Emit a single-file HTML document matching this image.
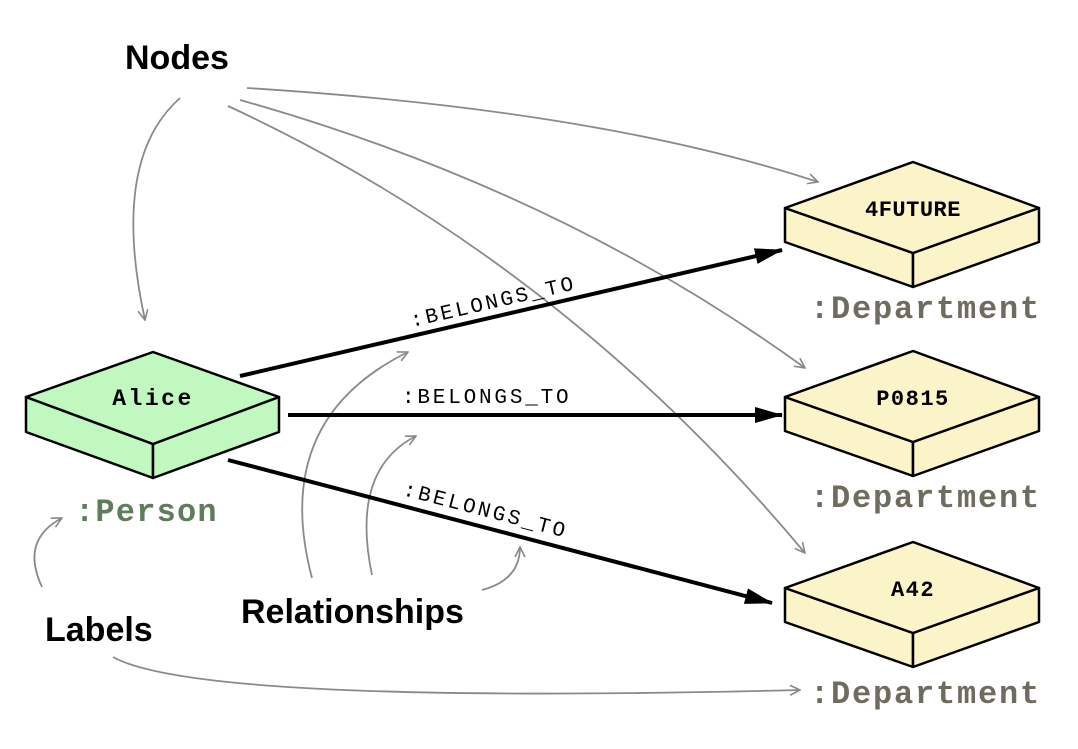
<!DOCTYPE html>
<html><head><style>
html,body{margin:0;padding:0;background:#fff;}
svg{display:block;}
.mono{font-family:"Liberation Mono",monospace;font-weight:bold;}
.rel{font-family:"Liberation Mono",monospace;}
.sans{font-family:"Liberation Sans",sans-serif;font-weight:bold;}
</style></head><body>
<svg width="1078" height="749" viewBox="0 0 1078 749" xmlns="http://www.w3.org/2000/svg">
<defs>
<marker id="g" viewBox="0 0 12 12" refX="11" refY="6" markerWidth="12" markerHeight="12" markerUnits="userSpaceOnUse" orient="auto">
<path d="M1,1 L11,6 L1,11" fill="none" stroke="#888" stroke-width="1.6"/>
</marker>
<marker id="b" viewBox="0 0 28 20" refX="27" refY="10" markerWidth="28" markerHeight="20" markerUnits="userSpaceOnUse" orient="auto">
<path d="M0,2 L28,10 L0,18 Z" fill="#000"/>
</marker>
</defs>

<g fill="none" stroke="#8a8a8a" stroke-width="1.8" marker-end="url(#g)">
<path d="M180,98 Q110,160 145,320"/>
<path d="M247,88 Q600,110 818,182"/>
<path d="M240,100 Q560,190 805,368"/>
<path d="M228,106 Q560,260 805,553"/>
<path d="M312,578 Q270,420 408,352"/>
<path d="M372,575 Q350,470 416,436"/>
<path d="M482,590 Q520,580 520,547"/>
<path d="M42,587 Q20,540 62,518"/>
<path d="M113,657 Q200,705 800,690"/>
</g>

<g stroke="#000" stroke-width="4" fill="none" marker-end="url(#b)">
<path d="M240,376 L782,250"/>
<path d="M288,415 L782,415"/>
<path d="M228,460 L772,603"/>
</g>
<text class="rel" font-size="21" letter-spacing="2.8" transform="translate(412,327) rotate(-13)">:BELONGS_TO</text>
<text class="rel" font-size="21" letter-spacing="2.8" x="402" y="403">:BELONGS_TO</text>
<text class="rel" font-size="21" letter-spacing="2.8" transform="translate(402,495) rotate(14.6)">:BELONGS_TO</text>

<g stroke="#000" stroke-width="2.5" stroke-linejoin="round" fill="#c0f8c0">
<path d="M26,397 L153,444 L153,478 L26,432 Z"/>
<path d="M153,444 L279,397 L279,432 L153,478 Z"/>
<path d="M153,352 L279,397 L153,444 L26,397 Z"/>
</g>
<text class="mono" font-size="23" letter-spacing="2.5" x="153" y="405" text-anchor="middle">Alice</text>
<text class="mono" font-size="32" letter-spacing="1.2" x="75" y="521" fill="#5d7d5d">:Person</text>

<g stroke="#000" stroke-width="2.5" stroke-linejoin="round" fill="#fbf4c8">
<g>
<path d="M785,208 L913,253 L913,287 L785,242 Z"/>
<path d="M913,253 L1039,208 L1039,242 L913,287 Z"/>
<path d="M913,162 L1039,208 L913,253 L785,208 Z"/>
</g>
<g transform="translate(0,189)">
<path d="M785,208 L913,253 L913,287 L785,242 Z"/>
<path d="M913,253 L1039,208 L1039,242 L913,287 Z"/>
<path d="M913,162 L1039,208 L913,253 L785,208 Z"/>
</g>
<g transform="translate(0,380)">
<path d="M785,208 L913,253 L913,287 L785,242 Z"/>
<path d="M913,253 L1039,208 L1039,242 L913,287 Z"/>
<path d="M913,162 L1039,208 L913,253 L785,208 Z"/>
</g>
</g>
<text class="mono" font-size="22" letter-spacing="0.5" x="913" y="216" text-anchor="middle">4FUTURE</text>
<text class="mono" font-size="22" letter-spacing="1.5" x="913" y="405" text-anchor="middle">P0815</text>
<text class="mono" font-size="22" letter-spacing="1.5" x="913" y="596" text-anchor="middle">A42</text>
<g class="mono" font-size="32" letter-spacing="1.8" fill="#6e6c5e">
<text x="810" y="318">:Department</text>
<text x="810" y="507">:Department</text>
<text x="810" y="703">:Department</text>
</g>

<text class="sans" font-size="34" x="125" y="69">Nodes</text>
<text class="sans" font-size="34" x="241" y="623">Relationships</text>
<text class="sans" font-size="34" x="45" y="641">Labels</text>
</svg>
</body></html>
